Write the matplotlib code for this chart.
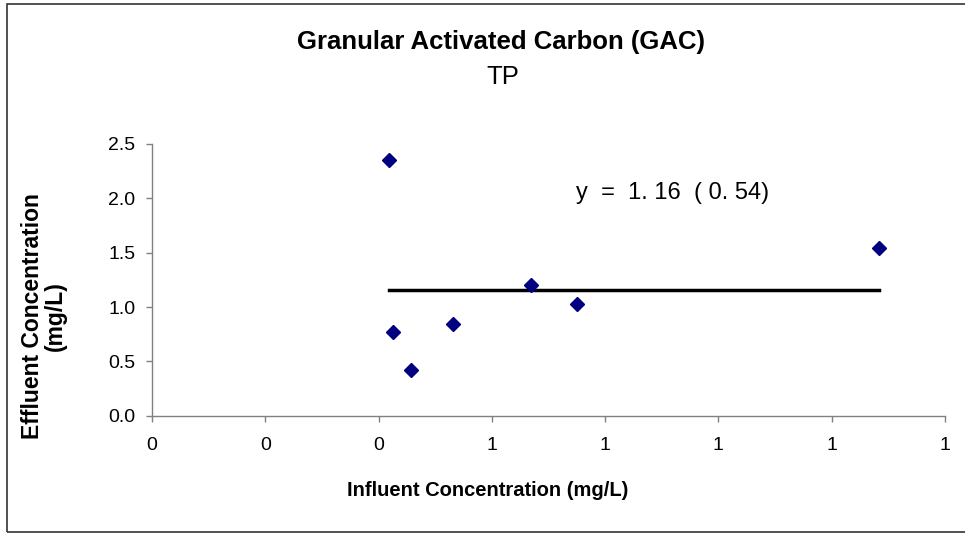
import matplotlib
matplotlib.use("Agg")
import matplotlib.pyplot as plt
from matplotlib.patches import Rectangle
from matplotlib.ticker import FormatStrFormatter, MultipleLocator

plt.rcParams["font.family"] = ["Liberation Sans", "DejaVu Sans"]

# data
influent = [0.418, 0.426, 0.457, 0.532, 0.669, 0.750, 1.283]
effluent = [2.35, 0.77, 0.42, 0.845, 1.20, 1.03, 1.54]
fit_value = 1.16
fit_se = 0.54

title = "Granular Activated Carbon (GAC)"
subtitle = "TP"

fig = plt.figure(figsize=(9.65, 5.34), dpi=100)
ax = fig.add_axes([152 / 965, 1 - 415.7 / 534, 793 / 965, 271.7 / 534])

# Excel style outer frame (right edge runs off the image)
fig.patches.append(Rectangle((7 / 965, 1 - 532 / 534), 1.1, 528 / 534,
                             transform=fig.transFigure, fill=False,
                             edgecolor="#333333", linewidth=1.2))

ax.plot([min(influent), max(influent)], [fit_value, fit_value],
        color="black", linewidth=2.5, zorder=2)
ax.plot(influent, effluent, linestyle="none", marker="D", markersize=7.5,
        color="#000080", zorder=3)

ax.set_xlim(0, 1.4)
ax.set_ylim(0, 2.5)
ax.xaxis.set_major_locator(MultipleLocator(0.2))
ax.yaxis.set_major_locator(MultipleLocator(0.5))
ax.xaxis.set_major_formatter(FormatStrFormatter("%.0f"))
ax.yaxis.set_major_formatter(FormatStrFormatter("%.1f"))

for side in ["top", "right"]:
    ax.spines[side].set_visible(False)
for side in ["left", "bottom"]:
    ax.spines[side].set_color("#808080")
    ax.spines[side].set_linewidth(1.0)
ax.tick_params(direction="out", length=4, width=1.0, color="#808080",
               labelsize=14, labelcolor="black")
ax.tick_params(axis="x", pad=11)
ax.tick_params(axis="y", pad=8)

ax.text(0.748, 2.05, f"y  =  1. {int(round(fit_value * 100)) % 100}  ( 0. {int(round(fit_se * 100))})",
        fontsize=17, ha="left", va="center")

fig.text(501 / 965, 1 - 42 / 534, title, fontsize=18.5, fontweight="bold",
         ha="center", va="center")
fig.text(503 / 965, 1 - 77 / 534, subtitle, fontsize=18.5,
         ha="center", va="center")

fig.text(488 / 965, 1 - 490 / 534, "Influent Concentration (mg/L)",
         fontsize=14.5, fontweight="bold", ha="center", va="center")
fig.text(44 / 965, 1 - 316 / 534, "Effluent Concentration\n(mg/L)",
         fontsize=16.5, fontweight="bold", ha="center", va="center",
         rotation=90, linespacing=0.95)

fig.savefig("out.png", dpi=100)
